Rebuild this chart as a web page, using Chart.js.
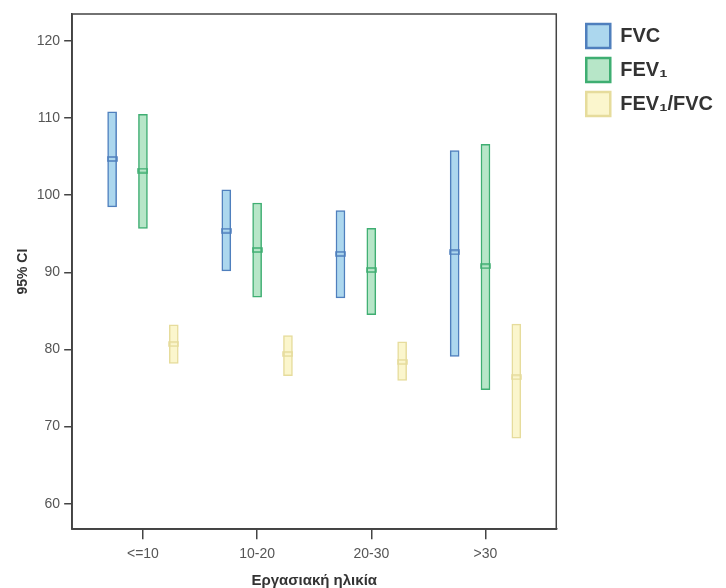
<!DOCTYPE html>
<html>
<head>
<meta charset="utf-8">
<script src="https://cdn.jsdelivr.net/npm/chart.js@4.4.1/dist/chart.umd.min.js"></script>
<style>
  body { margin: 0; background: #fff; }
  #wrap { width: 726px; height: 588px; }
</style>
</head>
<body>
<div id="wrap"><canvas id="myChart" width="726" height="588"></canvas></div>
<script>
// Datos
const categorias = ["<=10", "10-20", "20-30", ">30"];
const fvcBajo = [98.5, 90.2, 86.7, 79.1];
const fvcAlto = [110.8, 100.7, 98.0, 105.8];
const fvcMedia = [104.7, 95.4, 92.4, 92.6];
const fev1Bajo = [95.7, 86.8, 84.5, 74.8];
const fev1Alto = [110.5, 99.0, 95.7, 106.6];
const fev1Media = [103.2, 92.9, 90.3, 90.8];
const ratioBajo = [78.2, 76.6, 76.0, 68.5];
const ratioAlto = [83.2, 81.8, 81.0, 83.3];
const ratioMedia = [80.7, 79.4, 78.4, 76.4];
const yTicks = [60, 70, 80, 90, 100, 110, 120];

// desplazamiento de cada serie dentro del grupo
const desplaz = [-0.27, 0, 0.27];

// marcador de la media (pequeño rectángulo)
function marcador(color) {
  const c = document.createElement("canvas");
  c.width = 11;
  c.height = 6;
  const g = c.getContext("2d");
  g.strokeStyle = color;
  g.lineWidth = 1.5;
  g.strokeRect(1, 1, 9, 4);
  return c;
}

function barras(bajo, alto, k) {
  return categorias.map((c, i) => ({ x: i + desplaz[k], y: [bajo[i], alto[i]] }));
}
function medias(media, k) {
  return categorias.map((c, i) => ({ x: i + desplaz[k], y: media[i] }));
}

const series = [
  { label: "FVC", bajo: fvcBajo, alto: fvcAlto, media: fvcMedia, fondo: "#acd7ee", borde: "#4f7fbd" },
  { label: "FEV\u2081", bajo: fev1Bajo, alto: fev1Alto, media: fev1Media, fondo: "#b7e6c8", borde: "#3fae72" },
  { label: "FEV\u2081/FVC", bajo: ratioBajo, alto: ratioAlto, media: ratioMedia, fondo: "#fbf6cd", borde: "#e6dc9c" },
];

const datasets = [];
series.forEach((s, k) => {
  datasets.push({
    type: "bar",
    label: s.label,
    data: barras(s.bajo, s.alto, k),
    backgroundColor: s.fondo,
    borderColor: s.borde,
    borderWidth: 1.5,
    borderSkipped: false,
    barThickness: 9,
    grouped: false,
    order: 2,
  });
});
series.forEach((s, k) => {
  datasets.push({
    type: "scatter",
    label: s.label + " media",
    data: medias(s.media, k),
    pointStyle: marcador(s.borde),
    showLine: false,
    order: 1,
  });
});

// marco alrededor del área del gráfico
const marco = {
  id: "marco",
  afterDraw(chart) {
    const a = chart.chartArea;
    const ctx = chart.ctx;
    ctx.save();
    ctx.strokeStyle = "#444";
    ctx.lineWidth = 1.5;
    ctx.strokeRect(a.left, a.top, a.right - a.left, a.bottom - a.top);
    ctx.restore();
  },
};

// espacio entre el área del gráfico y la leyenda, y margen derecho
const HUECO = 20;
const MARGEN_DER = 3;
const huecoLeyenda = {
  id: "huecoLeyenda",
  afterInit(chart) {
    const leg = chart.legend;
    const fitOrig = leg.fit;
    leg.fit = function () {
      fitOrig.call(this);
      this.width += HUECO + MARGEN_DER;
    };
  },
  afterLayout(chart) {
    chart.legend.left += HUECO;
  },
};

const fuente = "Arial, 'Liberation Sans', sans-serif";

const ctx = document.getElementById("myChart");
new Chart(ctx, {
  type: "bar",
  data: { datasets: datasets },
  options: {
    responsive: false,
    animation: false,
    layout: { padding: { top: 14, left: 15, right: 0, bottom: -2 } },
    plugins: {
      tooltip: { enabled: false },
      legend: {
        position: "right",
        align: "start",
        labels: {
          boxWidth: 24,
          boxHeight: 24,
          padding: 10,
          color: "#333",
          font: { family: fuente, size: 20, weight: "bold" },
          generateLabels: (chart) =>
            series.map((s, k) => ({
              text: s.label,
              fillStyle: s.fondo,
              strokeStyle: s.borde,
              lineWidth: 2.5,
              datasetIndex: k,
              fontColor: "#333",
            })),
        },
      },
    },
    scales: {
      x: {
        type: "linear",
        offset: false,
        min: -0.62,
        max: 3.62,
        afterBuildTicks: (scale) => {
          scale.ticks = categorias.map((c, i) => ({ value: i }));
        },
        ticks: {
          callback: (v) => categorias[v],
          color: "#555",
          font: { family: fuente, size: 14 },
          padding: 7,
          maxRotation: 0,
        },
        grid: { offset: false, drawOnChartArea: false, drawTicks: true, tickLength: 10, color: "#444", lineWidth: 1.5 },
        border: { color: "#444", width: 1.5 },
        title: {
          display: true,
          text: "Εργασιακή ηλικία",
          color: "#333",
          font: { family: fuente, size: 15, weight: "bold" },
          padding: { top: 2, bottom: 0 },
        },
      },
      y: {
        min: 56.7,
        max: 123.5,
        afterBuildTicks: (scale) => {
          scale.ticks = yTicks.map((v) => ({ value: v }));
        },
        ticks: {
          color: "#555",
          font: { family: fuente, size: 14 },
          padding: 4,
        },
        grid: { drawOnChartArea: false, drawTicks: true, tickLength: 8, color: "#444", lineWidth: 1.5 },
        border: { color: "#444", width: 1.5 },
        title: {
          display: true,
          text: "95% CI",
          color: "#333",
          font: { family: fuente, size: 14, weight: "bold" },
          padding: { top: 0, bottom: 1 },
        },
      },
    },
  },
  plugins: [marco, huecoLeyenda],
});
</script>
</body>
</html>
